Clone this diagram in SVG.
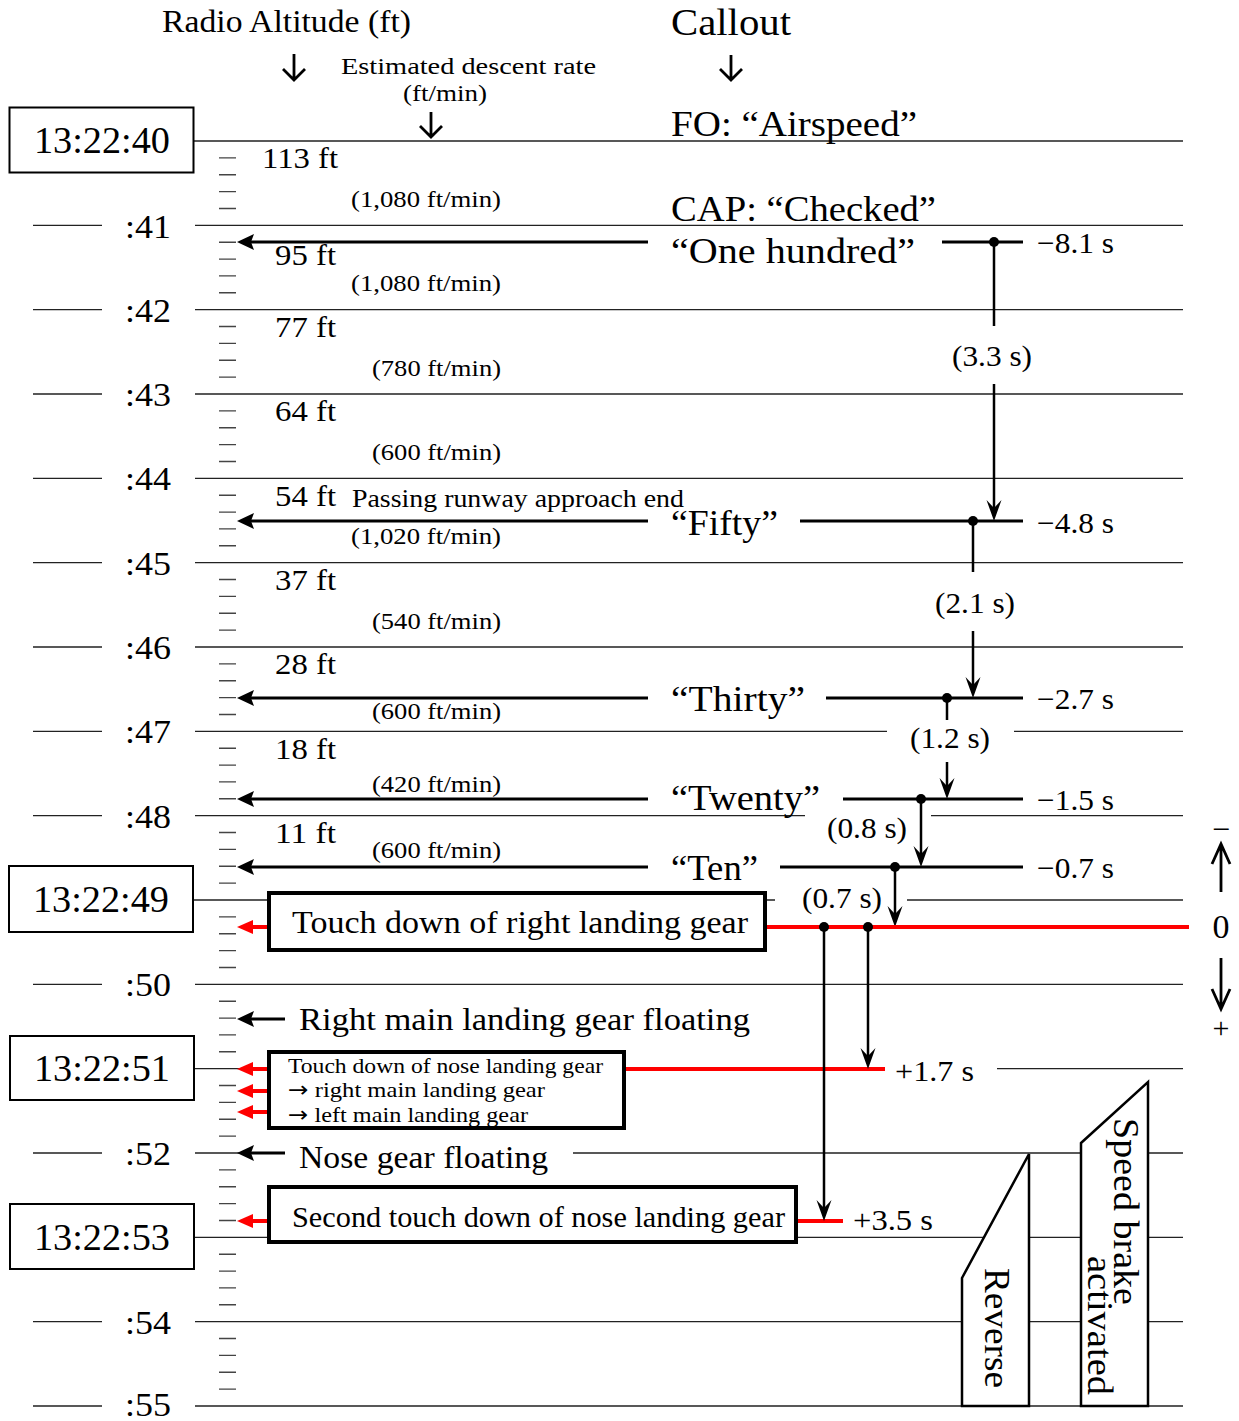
<svg xmlns="http://www.w3.org/2000/svg" width="1239" height="1421" viewBox="0 0 1239 1421">
<style>
text { font-family: "Liberation Serif", "Times New Roman", serif; fill: #000; }
.grid { stroke: #222; stroke-width: 1.3; fill: none; }
.tick { stroke: #444; stroke-width: 1.4; fill: none; }
.tbox { fill: #fff; stroke: #000; stroke-width: 2; }
.ebox { fill: #fff; stroke: #000; stroke-width: 4; }
.ebord { fill: none; stroke: #000; stroke-width: 4; }
.shape { fill: #fff; stroke: #000; stroke-width: 2.5; }
.conn { stroke: #000; stroke-width: 3; fill: none; }
.vconn { stroke: #000; stroke-width: 2.5; fill: none; }
.red { stroke: #f00; stroke-width: 4; fill: none; }
.open { stroke: #000; stroke-width: 2.8; fill: none; stroke-linejoin: miter; }
.sec { font-size: 34px; }
.tm { font-size: 37px; }
.co { font-size: 36px; }
.alt { font-size: 30px; }
.rate { font-size: 24px; }
.rl { font-size: 30px; }
.arw { font-family: "DejaVu Sans", sans-serif; }
</style>
<defs>
<marker id="lh" markerUnits="userSpaceOnUse" markerWidth="40" markerHeight="40" refX="0" refY="0" orient="auto" overflow="visible">
<path d="M12,0 L-5,-8 L-2,0 L-5,8 Z" fill="#000"/>
</marker>
<marker id="rh" markerUnits="userSpaceOnUse" markerWidth="40" markerHeight="40" refX="0" refY="0" orient="auto" overflow="visible">
<path d="M12,0 L-4,-7 L-4,7 Z" fill="#f00"/>
</marker>
<marker id="dn" markerUnits="userSpaceOnUse" markerWidth="40" markerHeight="40" refX="0" refY="0" orient="auto" overflow="visible">
<path d="M8,0 L-13,-7.5 L-5,0 L-13,7.5 Z" fill="#000"/>
</marker>
</defs>
<rect width="1239" height="1421" fill="#fff"/>

<g id="grid">
<path class="grid" d="M193,141H1183
M33,225.3H102M195,225.3H1183
M33,309.7H102M195,309.7H1183
M33,394H102M195,394H1183
M33,478.3H102M195,478.3H1183
M33,562.7H102M195,562.7H1183
M33,647H102M195,647H1183
M33,731.3H102M195,731.3H887M1014,731.3H1183
M33,815.7H102M195,815.7H805M931,815.7H1183
M193,900H268M765,900H775M907,900H1183
M33,984.3H102M195,984.3H1183
M193,1068.7H268M997,1068.7H1183
M33,1153H102M195,1153H285M573,1153H1183
M193,1237.3H268M796,1237.3H1183
M33,1321.7H102M195,1321.7H1183
M33,1406H102M195,1406H1183"/>
<path class="tick" d="M219,157.9h17M219,174.7h17M219,191.6h17M219,208.5h17
M219,242.2h17M219,259.1h17M219,275.9h17M219,292.8h17
M219,326.5h17M219,343.4h17M219,360.3h17M219,377.1h17
M219,410.9h17M219,427.7h17M219,444.6h17M219,461.5h17
M219,495.2h17M219,512.1h17M219,528.9h17M219,545.8h17
M219,579.5h17M219,596.4h17M219,613.3h17M219,630.1h17
M219,663.9h17M219,680.7h17M219,697.6h17M219,714.5h17
M219,748.2h17M219,765.1h17M219,781.9h17M219,798.8h17
M219,832.5h17M219,849.4h17M219,866.3h17M219,883.1h17
M219,916.9h17M219,933.7h17M219,950.6h17M219,967.5h17
M219,1001.2h17M219,1018.1h17M219,1034.9h17M219,1051.8h17
M219,1085.5h17M219,1102.4h17M219,1119.3h17M219,1136.1h17
M219,1169.9h17M219,1186.7h17M219,1203.6h17M219,1220.5h17
M219,1254.2h17M219,1271.1h17M219,1287.9h17M219,1304.8h17
M219,1338.5h17M219,1355.4h17M219,1372.3h17M219,1389.1h17"/>
</g>

<g id="second-labels">
<text class="sec" x="125" y="238" textLength="46" lengthAdjust="spacingAndGlyphs">:41</text>
<text class="sec" x="125" y="322" textLength="46" lengthAdjust="spacingAndGlyphs">:42</text>
<text class="sec" x="125" y="406" textLength="46" lengthAdjust="spacingAndGlyphs">:43</text>
<text class="sec" x="125" y="490" textLength="46" lengthAdjust="spacingAndGlyphs">:44</text>
<text class="sec" x="125" y="575" textLength="46" lengthAdjust="spacingAndGlyphs">:45</text>
<text class="sec" x="125" y="659" textLength="46" lengthAdjust="spacingAndGlyphs">:46</text>
<text class="sec" x="125" y="743" textLength="46" lengthAdjust="spacingAndGlyphs">:47</text>
<text class="sec" x="125" y="828" textLength="46" lengthAdjust="spacingAndGlyphs">:48</text>
<text class="sec" x="125" y="996" textLength="46" lengthAdjust="spacingAndGlyphs">:50</text>
<text class="sec" x="125" y="1165" textLength="46" lengthAdjust="spacingAndGlyphs">:52</text>
<text class="sec" x="125" y="1334" textLength="46" lengthAdjust="spacingAndGlyphs">:54</text>
<text class="sec" x="125" y="1416" font-size="33" textLength="46" lengthAdjust="spacingAndGlyphs">:55</text>
</g>

<g id="time-134240">
<rect class="tbox" x="9.5" y="107.5" width="184" height="65"/>
<text class="tm" x="34" y="153" textLength="136" lengthAdjust="spacingAndGlyphs">13:22:40</text>
</g>
<g id="time-134249">
<rect class="tbox" x="9" y="866" width="184" height="66" stroke-width="2.5"/>
<text class="tm" x="33" y="912" textLength="136" lengthAdjust="spacingAndGlyphs">13:22:49</text>
</g>
<g id="time-134251">
<rect class="tbox" x="10" y="1036" width="184" height="64"/>
<text class="tm" x="34" y="1081" textLength="136" lengthAdjust="spacingAndGlyphs">13:22:51</text>
</g>
<g id="time-134253">
<rect class="tbox" x="10" y="1204" width="184" height="65"/>
<text class="tm" x="34" y="1250" textLength="136" lengthAdjust="spacingAndGlyphs">13:22:53</text>
</g>

<g id="headers">
<text x="162" y="32" font-size="31" textLength="249" lengthAdjust="spacingAndGlyphs">Radio Altitude (ft)</text>
<text x="671" y="35" font-size="37" textLength="120" lengthAdjust="spacingAndGlyphs">Callout</text>
<text x="341" y="74" font-size="24" textLength="255" lengthAdjust="spacingAndGlyphs">Estimated descent rate</text>
<text x="403" y="101" font-size="24" textLength="84" lengthAdjust="spacingAndGlyphs">(ft/min)</text>
<path class="open" d="M294,54V80M283,69L294,80L305,69"/>
<path class="open" d="M431,112V137M420,126L431,137L442,126"/>
<path class="open" d="M731,55V80M720,69L731,80L742,69"/>
</g>

<g id="altitudes">
<text class="alt" x="262" y="168" textLength="76" lengthAdjust="spacingAndGlyphs">113 ft</text>
<text class="alt" x="275" y="265" textLength="61" lengthAdjust="spacingAndGlyphs">95 ft</text>
<text class="alt" x="275" y="337" textLength="61" lengthAdjust="spacingAndGlyphs">77 ft</text>
<text class="alt" x="275" y="421" textLength="61" lengthAdjust="spacingAndGlyphs">64 ft</text>
<text class="alt" x="275" y="506" textLength="61" lengthAdjust="spacingAndGlyphs">54 ft</text>
<text class="alt" x="275" y="590" textLength="61" lengthAdjust="spacingAndGlyphs">37 ft</text>
<text class="alt" x="275" y="674" textLength="61" lengthAdjust="spacingAndGlyphs">28 ft</text>
<text class="alt" x="275" y="759" textLength="61" lengthAdjust="spacingAndGlyphs">18 ft</text>
<text class="alt" x="275" y="843" textLength="61" lengthAdjust="spacingAndGlyphs">11 ft</text>
</g>

<g id="rates">
<text class="rate" x="351" y="207" textLength="150" lengthAdjust="spacingAndGlyphs">(1,080 ft/min)</text>
<text class="rate" x="351" y="291" textLength="150" lengthAdjust="spacingAndGlyphs">(1,080 ft/min)</text>
<text class="rate" x="372" y="376" textLength="129" lengthAdjust="spacingAndGlyphs">(780 ft/min)</text>
<text class="rate" x="372" y="460" textLength="129" lengthAdjust="spacingAndGlyphs">(600 ft/min)</text>
<text class="rate" x="351" y="544" textLength="150" lengthAdjust="spacingAndGlyphs">(1,020 ft/min)</text>
<text class="rate" x="372" y="629" textLength="129" lengthAdjust="spacingAndGlyphs">(540 ft/min)</text>
<text class="rate" x="372" y="719" textLength="129" lengthAdjust="spacingAndGlyphs">(600 ft/min)</text>
<text class="rate" x="372" y="792" textLength="129" lengthAdjust="spacingAndGlyphs">(420 ft/min)</text>
<text class="rate" x="372" y="858" textLength="129" lengthAdjust="spacingAndGlyphs">(600 ft/min)</text>
</g>

<g id="passing-runway">
<text x="352" y="507" font-size="26" textLength="332" lengthAdjust="spacingAndGlyphs">Passing runway approach end</text>
</g>

<g id="callouts">
<text class="co" x="671" y="136" textLength="246" lengthAdjust="spacingAndGlyphs">FO: “Airspeed”</text>
<text class="co" x="671" y="221" textLength="265" lengthAdjust="spacingAndGlyphs">CAP: “Checked”</text>
<text class="co" x="671" y="263" textLength="244" lengthAdjust="spacingAndGlyphs">“One hundred”</text>
<text class="co" x="671" y="535" textLength="107" lengthAdjust="spacingAndGlyphs">“Fifty”</text>
<text class="co" x="671" y="711" textLength="134" lengthAdjust="spacingAndGlyphs">“Thirty”</text>
<text class="co" x="671" y="810" textLength="149" lengthAdjust="spacingAndGlyphs">“Twenty”</text>
<text class="co" x="671" y="880" textLength="87" lengthAdjust="spacingAndGlyphs">“Ten”</text>
</g>

<g id="shapes">
<g id="reverse">
<polygon class="shape" points="962,1278 1029,1154 1029,1406 962,1406"/>
<text transform="translate(985,1268) rotate(90)" font-size="36" textLength="120" lengthAdjust="spacingAndGlyphs">Reverse</text>
</g>
<g id="speed-brake">
<polygon class="shape" points="1081,1143 1148,1082 1148,1406 1081,1406"/>
<text transform="translate(1114,1118) rotate(90)" font-size="36" textLength="187" lengthAdjust="spacingAndGlyphs">Speed brake</text>
<text transform="translate(1088,1256) rotate(90)" font-size="36" textLength="139" lengthAdjust="spacingAndGlyphs">activated</text>
</g>
</g>

<g id="connectors">
<path class="conn" marker-end="url(#lh)" d="M648,242H249"/>
<path class="conn" marker-end="url(#lh)" d="M648,521H249"/>
<path class="conn" marker-end="url(#lh)" d="M648,698H249"/>
<path class="conn" marker-end="url(#lh)" d="M648,799H249"/>
<path class="conn" marker-end="url(#lh)" d="M648,867H249"/>
<path class="conn" marker-end="url(#lh)" d="M285,1019H249"/>
<path class="conn" marker-end="url(#lh)" d="M285,1153H249"/>
<path class="conn" d="M942,242H1023M800,521H1023M826,698H1023M843,799H1023M780,867H1023"/>
<path class="vconn" d="M994,242V326M973,521V572M947,698V720"/>
<path class="vconn" marker-end="url(#dn)" d="M994,384V513"/>
<path class="vconn" marker-end="url(#dn)" d="M973,631V690"/>
<path class="vconn" marker-end="url(#dn)" d="M947,762V791"/>
<path class="vconn" marker-end="url(#dn)" d="M921,799V859"/>
<path class="vconn" marker-end="url(#dn)" d="M895,867V919"/>
<path class="red" d="M765,927H1189M625,1069H885M796,1221H843"/>
<path class="vconn" marker-end="url(#dn)" d="M868,927V1061"/>
<path class="vconn" marker-end="url(#dn)" d="M824,927V1213"/>
<path class="red" marker-end="url(#rh)" d="M269,927H249"/>
<path class="red" marker-end="url(#rh)" d="M269,1069H249"/>
<path class="red" marker-end="url(#rh)" d="M269,1091H249"/>
<path class="red" marker-end="url(#rh)" d="M269,1112H249"/>
<path class="red" marker-end="url(#rh)" d="M269,1221H249"/>
<g fill="#000">
<circle cx="994" cy="242" r="5"/>
<circle cx="973" cy="521" r="5"/>
<circle cx="947" cy="698" r="5"/>
<circle cx="921" cy="799" r="5"/>
<circle cx="895" cy="867" r="5"/>
<circle cx="868" cy="927" r="5"/>
<circle cx="824" cy="927" r="5"/>
</g>
<path class="open" d="M1221,892V844M1212,864L1221,844L1230,864"/>
<path class="open" d="M1221,958V1009M1212,989L1221,1009L1230,989"/>
</g>

<g id="interval-labels">
<text class="rl" x="1037" y="253" textLength="77" lengthAdjust="spacingAndGlyphs">−8.1 s</text>
<text class="rl" x="1037" y="533" textLength="77" lengthAdjust="spacingAndGlyphs">−4.8 s</text>
<text class="rl" x="1037" y="709" textLength="77" lengthAdjust="spacingAndGlyphs">−2.7 s</text>
<text class="rl" x="1037" y="810" textLength="77" lengthAdjust="spacingAndGlyphs">−1.5 s</text>
<text class="rl" x="1037" y="878" textLength="77" lengthAdjust="spacingAndGlyphs">−0.7 s</text>
<text class="rl" x="952" y="366" textLength="80" lengthAdjust="spacingAndGlyphs">(3.3 s)</text>
<text class="rl" x="935" y="613" textLength="80" lengthAdjust="spacingAndGlyphs">(2.1 s)</text>
<text class="rl" x="910" y="748" textLength="80" lengthAdjust="spacingAndGlyphs">(1.2 s)</text>
<text class="rl" x="827" y="838" textLength="80" lengthAdjust="spacingAndGlyphs">(0.8 s)</text>
<text class="rl" x="802" y="908" textLength="80" lengthAdjust="spacingAndGlyphs">(0.7 s)</text>
<text class="rl" x="895" y="1081" textLength="79" lengthAdjust="spacingAndGlyphs">+1.7 s</text>
<text class="rl" x="853" y="1230" textLength="80" lengthAdjust="spacingAndGlyphs">+3.5 s</text>
<text x="1221" y="840" font-size="32" text-anchor="middle">−</text>
<text x="1221" y="938" font-size="34" text-anchor="middle">0</text>
<text x="1221" y="1038" font-size="30" text-anchor="middle">+</text>
</g>

<g id="event-touchdown-right">
<rect class="ebox" x="269" y="893" width="496" height="57"/>
<text x="292" y="933" font-size="32" textLength="456" lengthAdjust="spacingAndGlyphs">Touch down of right landing gear</text>
</g>
<g id="event-right-floating">
<text x="299" y="1030" font-size="31" textLength="451" lengthAdjust="spacingAndGlyphs">Right main landing gear floating</text>
</g>
<g id="event-touchdown-nose">
<rect x="269" y="1052" width="355" height="76" fill="#fff"/>
<text x="288" y="1073" font-size="22" textLength="315" lengthAdjust="spacingAndGlyphs">Touch down of nose landing gear</text>
<text x="288" y="1097" font-size="22" textLength="257" lengthAdjust="spacingAndGlyphs"><tspan class="arw">→</tspan> right main landing gear</text>
<text x="288" y="1122" font-size="22" textLength="240" lengthAdjust="spacingAndGlyphs"><tspan class="arw">→</tspan> left main landing gear</text>
<rect class="ebord" x="269" y="1052" width="355" height="76"/>
</g>
<g id="event-nose-floating">
<text x="299" y="1168" font-size="31" textLength="249" lengthAdjust="spacingAndGlyphs">Nose gear floating</text>
</g>
<g id="event-second-touchdown">
<rect class="ebox" x="269" y="1187" width="527" height="55"/>
<text x="292" y="1227" font-size="29" textLength="493" lengthAdjust="spacingAndGlyphs">Second touch down of nose landing gear</text>
</g>
</svg>
